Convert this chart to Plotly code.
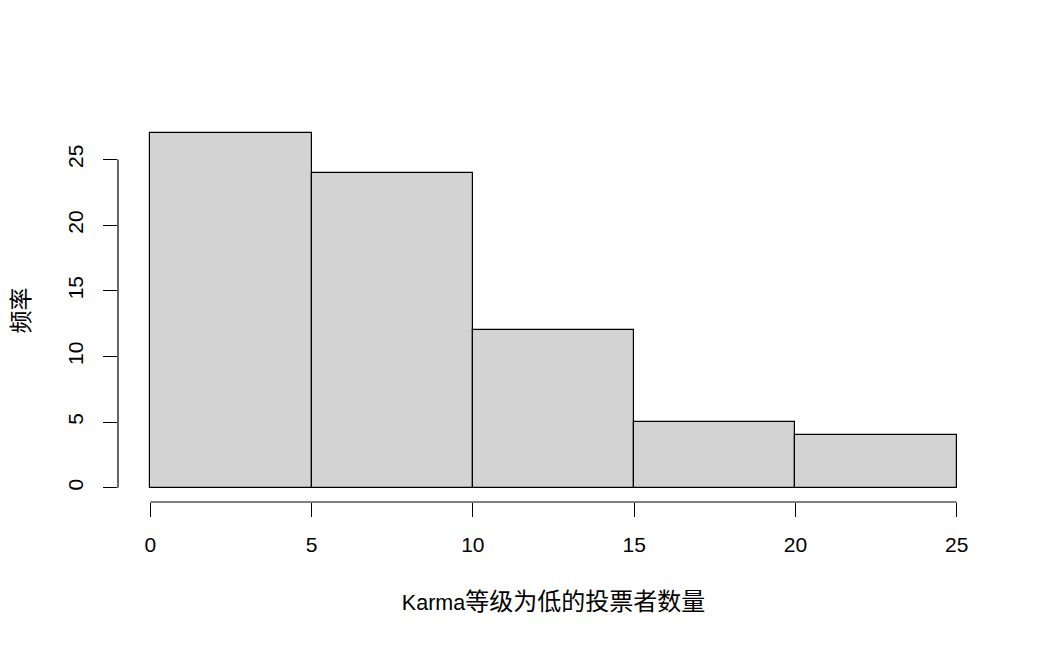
import plotly.graph_objects as go

bin_edges = [0, 5, 10, 15, 20, 25]
counts = [27, 24, 12, 5, 4]
x_ticks = [0, 5, 10, 15, 20, 25]
y_ticks = [0, 5, 10, 15, 20, 25]
x_title_latin = "Karma"
x_title_cjk = "等级为低的投票者数量"
y_title = "频率"

centers = [(a + b) / 2 for a, b in zip(bin_edges[:-1], bin_edges[1:])]
widths = [b - a for a, b in zip(bin_edges[:-1], bin_edges[1:])]

FONT = "Liberation Sans, Arial, Noto Sans CJK SC, sans-serif"

fig = go.Figure(
    go.Bar(
        x=centers,
        y=counts,
        width=widths,
        marker=dict(color="#D3D3D3", line=dict(color="black", width=1.2)),
        hoverinfo="x+y",
    )
)

fig.update_layout(
    width=1050,
    height=648,
    margin=dict(l=110, r=69, t=111, b=154, autoexpand=False),
    paper_bgcolor="white",
    plot_bgcolor="white",
    showlegend=False,
    font=dict(family=FONT, size=21, color="black"),
    bargap=0,
)

fig.update_xaxes(
    range=[-1, 26],
    tickvals=x_ticks,
    ticktext=[str(v) for v in x_ticks],
    ticks="outside",
    ticklen=14,
    tickwidth=1.2,
    tickcolor="black",
    showgrid=False,
    zeroline=False,
    showline=False,
    ticklabelstandoff=10,
    title=dict(
        text=x_title_latin + '<span style="font-size:24px">' + x_title_cjk + "</span>",
        standoff=39,
        font=dict(size=21.5),
    ),
    fixedrange=True,
)
fig.update_yaxes(
    range=[-1.08, 28.08],
    tickvals=y_ticks,
    ticktext=[str(v) for v in y_ticks],
    ticks="outside",
    ticklen=14,
    tickwidth=1.2,
    tickcolor="black",
    tickangle=-90,
    showgrid=False,
    zeroline=False,
    showline=False,
    ticklabelstandoff=12,
    title=dict(text=y_title, standoff=31, font=dict(size=23)),
    fixedrange=True,
)

# axis lines spanning only the tick range, as in R base graphics
fig.add_shape(type="line", xref="x", yref="paper", x0=x_ticks[0], x1=x_ticks[-1], y0=0, y1=0,
              line=dict(color="black", width=1.2))
fig.add_shape(type="line", xref="paper", yref="y", x0=0, x1=0, y0=y_ticks[0], y1=y_ticks[-1],
              line=dict(color="black", width=1.2))

fig.write_html("out.html")
